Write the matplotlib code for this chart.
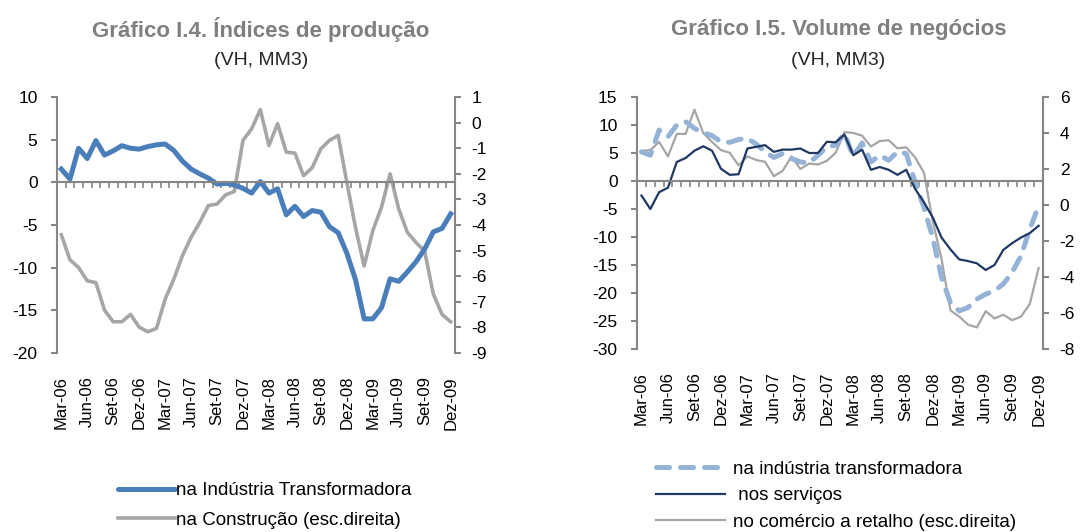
import numpy as np
import matplotlib
matplotlib.use('Agg')
import matplotlib.pyplot as plt
import matplotlib.transforms as mtransforms
from matplotlib.lines import Line2D

plt.rcParams['font.family'] = ['Liberation Sans', 'DejaVu Sans']
plt.rcParams['axes.unicode_minus'] = False

# months Mar-06 .. Dez-09
meses = ['Jan', 'Fev', 'Mar', 'Abr', 'Mai', 'Jun', 'Jul', 'Ago', 'Set', 'Out', 'Nov', 'Dez']
datas = []
for ano in range(6, 10):
    for m in range(12):
        if ano == 6 and m < 2:
            continue
        datas.append('%s-%02d' % (meses[m], ano))

# Grafico I.4
ind_transf = [1.56, 0.4, 4.0, 2.8, 4.9, 3.2, 3.7, 4.3, 4.0, 3.9, 4.2, 4.4, 4.5, 3.75, 2.5,
              1.56, 1.0, 0.5, -0.2, -0.1, -0.3, -0.7, -1.25, 0.1, -1.25, -0.75, -3.8, -2.8,
              -4.0, -3.3, -3.5, -5.2, -5.9, -8.3, -11.4, -16.0, -16.0, -14.7, -11.3, -11.6,
              -10.5, -9.3, -7.8, -5.8, -5.4, -3.7]
construcao = [-4.38, -5.36, -5.66, -6.18, -6.25, -7.33, -7.78, -7.78, -7.49, -7.99, -8.17,
              -8.04, -6.9, -6.12, -5.2, -4.48, -3.9, -3.24, -3.18, -2.82, -2.69, -0.69, -0.24,
              0.51, -0.89, -0.04, -1.15, -1.19, -2.07, -1.76, -1.02, -0.69, -0.5, -2.33,
              -4.09, -5.6, -4.22, -3.31, -2.0, -3.37, -4.29, -4.68, -5.03, -6.7, -7.49, -7.78]

# Grafico I.5
ind_vol = [5.2, 4.6, 9.1, 7.9, 10.0, 10.6, 9.4, 8.6, 8.1, 7.0, 6.9, 7.4, 7.6, 6.6, 5.2, 4.2,
           4.9, 4.0, 3.4, 3.2, 4.6, 6.1, 6.4, 8.5, 4.4, 6.8, 3.4, 4.6, 3.7, 5.2, 4.9, -0.2,
           -4.7, -10.1, -17.2, -21.7, -23.2, -22.6, -21.1, -20.2, -19.6, -18.4, -16.3, -13.4,
           -8.6, -4.4]
servicos = [-2.6, -5.0, -2.0, -1.2, 3.4, 4.1, 5.4, 6.2, 5.4, 2.2, 1.1, 1.2, 5.8, 6.1, 6.4,
            5.2, 5.6, 5.6, 5.8, 5.0, 5.0, 7.0, 6.9, 8.3, 4.6, 5.6, 2.0, 2.5, 2.0, 1.1, 2.0,
            -1.4, -3.8, -6.5, -10.1, -12.2, -14.0, -14.3, -14.7, -15.9, -15.0, -12.3, -11.1,
            -10.1, -9.3, -8.0]
retalho = [3.0, 3.05, 3.5, 2.7, 3.95, 3.95, 5.3, 4.0, 3.5, 3.05, 2.9, 2.2, 2.7, 2.5, 2.4,
           1.6, 1.9, 2.7, 2.0, 2.3, 2.25, 2.45, 2.9, 4.05, 4.0, 3.85, 3.25, 3.55, 3.6, 3.15,
           3.2, 2.65, 1.8, -0.9, -3.0, -5.85, -6.2, -6.65, -6.8, -5.9, -6.3, -6.1, -6.4, -6.2,
           -5.5, -3.5]

AXCOL = '#868686'
x = np.arange(len(datas))


def estilo(ax, ax2, yl, yr, tl, tr):
    ax.spines['top'].set_visible(False)
    ax2.spines['top'].set_visible(False)
    ax2.spines['bottom'].set_visible(False)
    ax2.spines['left'].set_visible(False)
    ax.spines['right'].set_visible(False)
    ax.spines['left'].set_color(AXCOL)
    ax.spines['left'].set_linewidth(1.5)
    ax2.spines['right'].set_color(AXCOL)
    ax2.spines['right'].set_linewidth(1.5)
    ax.spines['bottom'].set_position(('data', 0))
    ax.spines['bottom'].set_color(AXCOL)
    ax.spines['bottom'].set_linewidth(1.5)
    ax.set_xlim(-0.5, len(datas) - 0.5)
    ax.set_ylim(*yl)
    ax2.set_ylim(*yr)
    ax.set_yticks(tl)
    ax2.set_yticks(tr)
    ax.set_xticks(x[:-1] + 0.5)
    ax.set_xticklabels([])
    ax.tick_params(axis='x', length=4, width=1.2, color=AXCOL, direction='out')
    ax.tick_params(axis='y', length=4, width=1.5, color=AXCOL, labelsize=12.5, pad=10)
    ax2.tick_params(axis='y', length=4, width=1.5, color=AXCOL, labelsize=12.5, pad=8)
    trans = mtransforms.blended_transform_factory(ax.transData, ax.transAxes)
    for i in range(0, len(datas), 3):
        ax.annotate(datas[i], xy=(i, 0), xycoords=trans, xytext=(0, -16.5),
                    textcoords='offset points', rotation=90, ha='center', va='top',
                    fontsize=12)
    ax.set_zorder(ax2.get_zorder() + 1)
    ax.patch.set_visible(False)


fig = plt.figure(figsize=(10.89, 5.32), dpi=100)

# left chart
ax1 = fig.add_axes([0.0523, 0.3365, 0.3655, 0.481])
ax1b = ax1.twinx()
ax1b.plot(x, construcao, color='#a6a6a6', lw=2.6)
ax1.plot(x, ind_transf, color='#4a7ebb', lw=3.6)
estilo(ax1, ax1b, (-20, 10), (-9, 1), np.arange(-20, 11, 5), np.arange(-9, 2, 1))

fig.text(0.2397, 0.944, 'Gráfico I.4. Índices de produção', ha='center', va='center',
         fontsize=16, fontweight='bold', color='#7f7f7f')
fig.text(0.2397, 0.887, '(VH, MM3)', ha='center', va='center', fontsize=14, color='#262626')

h1 = [Line2D([], [], color='#4a7ebb', lw=3.6, solid_capstyle='round'),
      Line2D([], [], color='#a6a6a6', lw=2.6)]
fig.legend(h1, ['na Indústria Transformadora', 'na Construção (esc.direita)'],
           loc='center', bbox_to_anchor=(0.2435, 0.05), frameon=False, fontsize=13.5,
           handlelength=3.0, handletextpad=0.1, labelspacing=0.65, borderaxespad=0)

# right chart
ax2 = fig.add_axes([0.585, 0.344, 0.3728, 0.4737])
ax2b = ax2.twinx()
ax2b.plot(x, retalho, color='#a6a6a6', lw=1.6)
ax2.plot(x, ind_vol, color='#95b3d7', lw=3.6, dashes=(2.6, 2.2), dash_capstyle='round')
ax2.plot(x, servicos, color='#1f3864', lw=1.6)
estilo(ax2, ax2b, (-30, 15), (-8, 6), np.arange(-30, 16, 5), np.arange(-8, 7, 2))

fig.text(0.770, 0.944, 'Gráfico I.5. Volume de negócios', ha='center', va='center',
         fontsize=16, fontweight='bold', color='#7f7f7f')
fig.text(0.770, 0.887, '(VH, MM3)', ha='center', va='center', fontsize=14, color='#262626')

h2 = [Line2D([], [], color='#95b3d7', lw=3.6, dashes=(2.6, 2.2), dash_capstyle='round'),
      Line2D([], [], color='#1f3864', lw=1.6),
      Line2D([], [], color='#a6a6a6', lw=1.6)]
fig.legend(h2, ['na indústria transformadora', ' nos serviços',
                'no comércio a retalho (esc.direita)'],
           loc='center', bbox_to_anchor=(0.7677, 0.0685), frameon=False, fontsize=13.5,
           handlelength=3.7, handletextpad=0.4, labelspacing=0.5, borderaxespad=0)

fig.savefig('out.png', dpi=100)
